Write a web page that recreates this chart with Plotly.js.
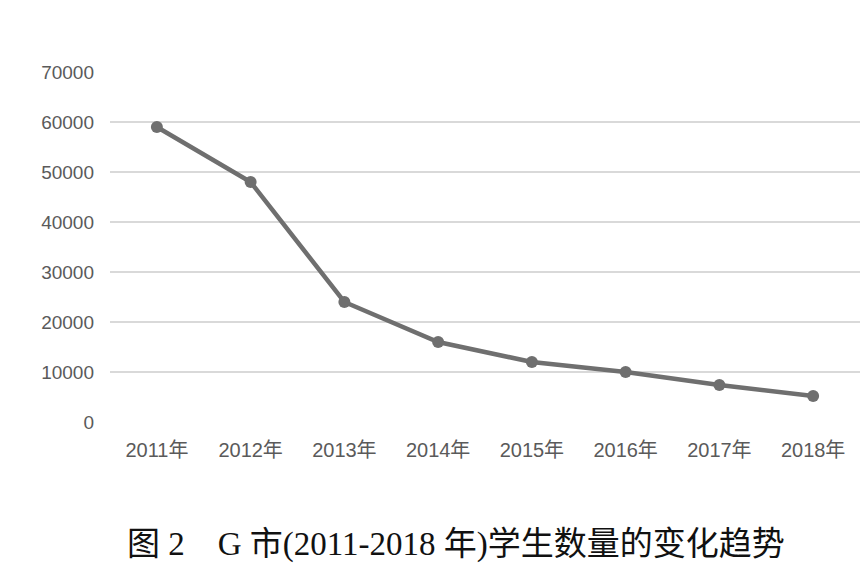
<!DOCTYPE html>
<html>
<head>
<meta charset="utf-8">
<script src="https://cdn.plot.ly/plotly-3.0.1.min.js"></script>
<style>html,body{margin:0;padding:0;background:#fff;}#chart{width:868px;height:569px;}</style>
</head>
<body>
<div id="chart"></div>
<script>
const years = ["2011年","2012年","2013年","2014年","2015年","2016年","2017年","2018年"];
const students = [59000, 48000, 24000, 16000, 12000, 10000, 7400, 5200];
const yTicks = [0, 10000, 20000, 30000, 40000, 50000, 60000, 70000];
const caption = "图 2　G 市(2011-2018 年)学生数量的变化趋势";

const trace = {
  x: years, y: students, type: "scatter", mode: "lines+markers",
  line: {color: "#6f6f6f", width: 4.5},
  marker: {color: "#6f6f6f", size: 12},
  hoverinfo: "skip"
};
const layout = {
  width: 868, height: 569,
  margin: {l: 110, r: 8, t: 72, b: 147},
  paper_bgcolor: "#fff", plot_bgcolor: "#fff",
  showlegend: false,
  font: {family: "Liberation Sans, Arial, Noto Sans CJK SC, sans-serif", color: "#595959", size: 19},
  xaxis: {
    type: "category", range: [-0.5, 7.5], showgrid: false, zeroline: false,
    showline: false, ticks: "", ticklabelstandoff: 14,
    tickfont: {size: 20, color: "#5a5a5a", family: "Liberation Sans, Noto Sans CJK SC, sans-serif"}
  },
  yaxis: {
    range: [0, 70000], tickvals: yTicks, ticktext: yTicks.map(String),
    showgrid: true, gridcolor: "#d9d9d9", gridwidth: 2, zeroline: false,
    showline: false, ticks: "", ticklabelstandoff: 15,
    tickfont: {size: 19, color: "#5a5a5a"}
  },
  annotations: [{
    text: caption, xref: "paper", yref: "paper", x: 0.461, y: -0.351,
    xanchor: "center", yanchor: "middle", showarrow: false,
    font: {family: "Liberation Serif, Noto Sans CJK SC, serif", size: 33, color: "#111"}
  }]
};
Plotly.newPlot("chart", [trace], layout, {displayModeBar: false, staticPlot: true});
</script>
</body>
</html>
